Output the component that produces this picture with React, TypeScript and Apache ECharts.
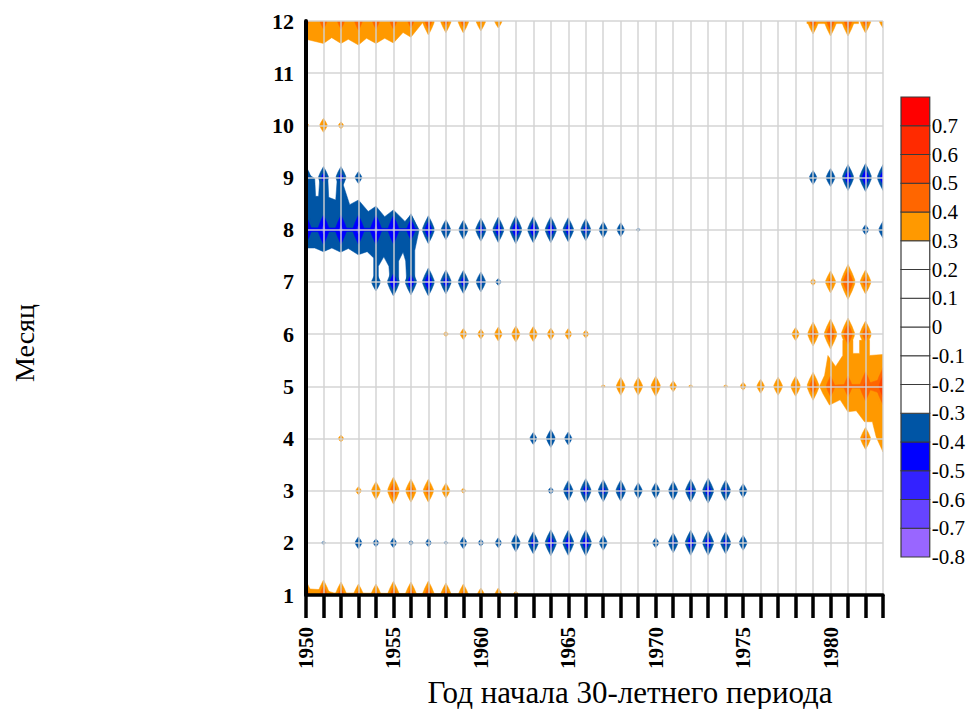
import React, { useEffect, useRef } from "react";
import * as echarts from "echarts";

const firstYear = 1950;
const lastYear = 1983;

// Correlation peaks, one value per start year 1950..1983; 0 means inside the white band.
const month1 = [.45,.46,.44,.42,.42,.447,.44,.45,.43,.42,.38,.38,.35,0,0,0,0,0,0,0,0,0,0,0,0,0,0,0,0,0,0,0,0,0];
const month2 = [0,-.32,0,-.37,-.35,-.36,-.335,-.35,-.32,-.37,-.345,-.36,-.40,-.42,-.44,-.435,-.44,-.385,0,0,-.36,-.41,-.435,-.435,-.42,-.385,0,0,0,0,0,0,0,0];
const month3 = [0,0,0,.35,.40,.445,.425,.425,.385,.335,0,0,0,0,-.345,-.41,-.43,-.42,-.415,-.39,-.39,-.405,-.425,-.435,-.415,-.38,0,0,0,0,0,0,0,0];
const month4 = [0,0,.345,0,0,0,0,0,0,0,0,0,0,-.37,-.40,-.375,0,0,0,0,0,0,0,0,0,0,0,0,0,0,0,0,.42,0];
const month5 = [0,0,0,0,0,0,0,0,0,0,0,0,0,0,0,0,0,.32,.40,.40,.41,.365,.32,0,.32,.35,.38,.40,.41,.45,.47,.47,.51,.55];
const month6 = [0,0,0,0,0,0,0,0,.335,.365,.36,.38,.39,.385,.37,.365,.35,0,0,0,0,0,0,0,0,0,0,0,.375,.43,.46,.47,.44,0];
const month7 = [0,0,0,0,-.40,-.45,-.44,-.45,-.43,-.425,-.41,-.345,0,0,0,0,0,0,0,0,0,0,0,0,0,0,0,0,0,.345,.42,.485,.43,0];
const month8 = [-.505,-.51,-.51,-.51,-.51,-.505,-.47,-.45,-.41,-.405,-.425,-.437,-.45,-.44,-.44,-.43,-.42,-.39,-.38,-.32,0,0,0,0,0,0,0,0,0,0,0,0,-.36,-.395];
const month9 = [-.42,-.42,-.42,-.37,0,0,0,0,0,0,0,0,0,0,0,0,0,0,0,0,0,0,0,0,0,0,0,0,0,-.38,-.40,-.44,-.45,-.44];
const month10 = [.345,.38,.345,0,0,0,0,0,0,0,0,0,0,0,0,0,0,0,0,0,0,0,0,0,0,0,0,0,0,0,0,0,0,0];
const month11 = [0,0,0,0,0,0,0,0,0,0,0,0,0,0,0,0,0,0,0,0,0,0,0,0,0,0,0,0,0,0,0,0,0,0];
const month12 = [.44,.45,.45,.46,.45,.45,.44,.45,.427,.43,.41,.38,0,0,0,0,0,0,0,0,0,0,0,0,0,0,0,0,0,.44,.46,.46,.43,.38];
const monthRows = [month1, month2, month3, month4, month5, month6, month7, month8, month9, month10, month11, month12];

// Contour outlines of the merged regions, as [year, month] pairs with the level they bound.
const decemberBand = [[1950,12],[1950,11.65],[1951,11.57],[1951.47,11.68],[1952,11.57],[1952.42,11.65],[1953,11.54],[1953.46,11.67],[1954,11.57],[1954.5,11.67],[1955,11.58],[1955.55,11.78],[1956,11.69],[1956.7,11.98],[1956.7,12]];
const lateDecemberBand = [[1978.65,12],[1981.6,12],[1981.6,11.95],[1978.65,11.95]];
const januaryBand = [[1950,1],[1950,1.12],[1951,1.1],[1951.6,1.04],[1959.3,1.02],[1959.3,1]];
const augustBand = [[1950,9.18],[1950.2,9.05],[1950.5,8.98],[1950.55,8.64],[1950.72,8.64],[1950.78,8.95],[1951,9.18],[1951.25,8.98],[1951.3,8.62],[1951.7,8.57],[1951.78,8.95],[1952,9.18],[1952.22,8.98],[1952.13,8.86],[1952.5,8.48],[1953,8.57],[1953.56,8.35],[1954,8.45],[1954.5,8.25],[1955,8.38],[1955.66,8.16],[1956,8.29],[1956.47,8],[1956.22,7.6],[1956.22,7.05],[1955.75,7.05],[1955.7,7.4],[1955.55,7.57],[1955.3,7.4],[1955.3,7.05],[1954.8,7.05],[1954.74,7.3],[1954.45,7.48],[1954.14,7.3],[1954.14,7.05],[1953.87,7.05],[1953.87,7.46],[1953.5,7.58],[1952.99,7.52],[1952.42,7.64],[1951.98,7.57],[1951.48,7.65],[1951,7.58],[1950.5,7.65],[1950,7.65]];
const augustCore = [[1950,8.04],[1956.35,8.02],[1956.35,7.98],[1950,7.96]];
const mayBand = [[1979.37,5],[1979.66,5.21],[1979.85,5.59],[1980.29,5.38],[1980.7,5.59],[1980.7,5.88],[1981.28,5.88],[1981.28,5.63],[1981.66,5.63],[1981.66,5.88],[1982.23,5.88],[1982.23,5.59],[1983,5.61],[1983,3.74],[1982.61,4.03],[1982.42,4.28],[1982.4,4.32],[1981.94,4.32],[1981.47,4.53],[1980.99,4.51],[1980.55,4.74],[1979.94,4.64],[1979.56,4.86]];
const mayCore = [[1979.75,5],[1980.5,5.03],[1982,5.04],[1983,5.15],[1983,4.85],[1982,4.96],[1980.5,4.97]];

const outlines = [
  { level: 0.3, points: decemberBand },
  { level: 0.3, points: lateDecemberBand },
  { level: 0.3, points: januaryBand },
  { level: 0.3, points: mayBand },
  { level: -0.3, points: augustBand },
  { level: -0.4, points: augustCore },
  { level: 0.4, points: mayCore },
];

const legendLimits = [-0.8,-0.7,-0.6,-0.5,-0.4,-0.3,-0.2,-0.1,0,0.1,0.2,0.3,0.4,0.5,0.6,0.7,0.8];
const legendFills = ["#9966ff","#6644ff","#3322ff","#0000ff","#0055a5","#ffffff","#ffffff","#ffffff","#ffffff","#ffffff","#ffffff","#ff9900","#ff6600","#ff4400","#ff2a00","#ff0000"];
const levels = [0.3, 0.4, 0.5];
const yearsLabel = "Год начала 30-летнего периода";
const monthsLabel = "Месяц";
const serif = "'Liberation Serif', serif";

const fillFor = (level: number) => legendFills[Math.round((level + 0.8) * 10) - (level < 0 ? 1 : 0)];
const clampX = (v: number) => Math.min(lastYear, Math.max(firstYear, v));
const clampY = (v: number) => Math.min(12, Math.max(1, v));

// One month is 52.2 px high and one year 17.5 px wide on the reference's axes.
const reachPx = (p: number) => Math.max(1.5, 100 * (p - 0.3) - 1);

export default function App() {
  const ref = useRef<HTMLDivElement>(null);
  useEffect(() => {
    const chart = echarts.init(ref.current!, undefined, { renderer: "svg" });
    const series: any[] = [];
    for (const level of levels) {
      for (const sign of [1, -1]) {
        const signed = level * sign;
        const fill = fillFor(signed);
        const style = { fill, stroke: fill, lineWidth: 0.5 };
        const shapes = outlines.filter((o) => Math.abs(o.level - signed) < 1e-6);
        series.push({
          type: "custom", coordinateSystem: "cartesian2d", z: 2, silent: true, clip: true,
          encode: { x: 0, y: 1 },
          data: shapes.map((o) => [o.points[0][0], o.points[0][1], outlines.indexOf(o)]),
          renderItem: (_: any, api: any) => {
            const o = outlines[api.value(2)];
            return {
              type: "polygon", silent: true,
              shape: { points: o.points.map((p) => api.coord([clampX(p[0]), clampY(p[1])])) },
              style,
            };
          },
        });
        const peaks: number[][] = [];
        monthRows.forEach((row, m) => row.forEach((v, i) => {
          if (v * sign > level) peaks.push([firstYear + i, m + 1, Math.abs(v)]);
        }));
        series.push({
          type: "custom", coordinateSystem: "cartesian2d", z: 2, silent: true, clip: true,
          encode: { x: 0, y: 1 },
          data: peaks,
          renderItem: (_: any, api: any) => {
            const x = api.value(0);
            const y = api.value(1);
            const p = api.value(2);
            const r = reachPx(p);
            const frac = Math.sqrt((p - level) / (p - 0.3));
            const h = (r * frac) / 52.2;
            const w = ((1.5 + 0.3 * r) * frac) / 17.5;
            const ring = [[0,1],[0.62,0.5],[1,0.12],[1,-0.12],[0.62,-0.5],[0,-1],[-0.62,-0.5],[-1,-0.12],[-1,0.12],[-0.62,0.5]];
            return {
              type: "polygon", silent: true,
              shape: { points: ring.map((q) => api.coord([clampX(x + q[0] * w), clampY(y + q[1] * h)])) },
              style,
            };
          },
        });
      }
    }
    series.push({
      type: "custom", coordinateSystem: "cartesian2d", xAxisIndex: 1, yAxisIndex: 1, silent: true,
      encode: { y: [0, 1] },
      data: legendFills.map((_, i) => [legendLimits[i], legendLimits[i + 1], i]),
      renderItem: (_: any, api: any) => {
        const a = api.coord([0, api.value(0)]);
        const b = api.coord([1, api.value(1)]);
        return {
          type: "rect", silent: true,
          shape: { x: a[0], y: b[1], width: b[0] - a[0], height: a[1] - b[1] },
          style: { fill: legendFills[api.value(2)], stroke: "#3a3a3a", lineWidth: 1.2 },
        };
      },
    });
    const gridLine = { show: true, lineStyle: { color: "#d2d2d2", width: 2, opacity: 0.7 } };
    chart.setOption({
      animation: false,
      backgroundColor: "#ffffff",
      grid: [
        { left: 306, top: 21, width: 577, height: 574, containLabel: false },
        { left: 901, top: 97, width: 29, height: 460, containLabel: false },
      ],
      xAxis: [
        {
          type: "value", gridIndex: 0, min: firstYear, max: lastYear, interval: 1, z: 5,
          splitLine: gridLine,
          axisLine: { lineStyle: { color: "#000", width: 3.5 } },
          axisTick: { length: 23, lineStyle: { color: "#000", width: 3.5 } },
          axisLabel: {
            rotate: 90, margin: 32, color: "#000", fontFamily: serif, fontSize: 21, fontWeight: "bold",
            hideOverlap: false, showMinLabel: true, interval: 0,
            formatter: (v: number) => (v % 5 === 0 ? String(v) : ""),
          },
        },
        { type: "value", gridIndex: 1, min: 0, max: 1, show: false },
      ],
      yAxis: [
        {
          type: "value", gridIndex: 0, min: 1, max: 12, interval: 1, z: 5,
          splitLine: gridLine,
          axisLine: { show: true, lineStyle: { color: "#000", width: 4 } },
          axisTick: { show: false },
          axisLabel: { margin: 12, color: "#000", fontFamily: serif, fontSize: 22, fontWeight: "bold" },
        },
        {
          type: "value", gridIndex: 1, min: -0.8, max: 0.8, interval: 0.1, position: "right",
          splitLine: { show: false }, axisLine: { show: false }, axisTick: { show: false },
          axisLabel: {
            margin: 2, color: "#000", fontFamily: serif, fontSize: 21,
            formatter: (v: number) => (Math.abs(v - 0.8) < 1e-6 ? "" : String(Math.round(v * 10) / 10)),
          },
        },
      ],
      graphic: [
        { type: "text", x: 630, y: 692.5, style: { text: yearsLabel, font: `31px ${serif}`, fill: "#000", align: "center", verticalAlign: "middle" } },
        { type: "text", x: 24, y: 343, rotation: Math.PI / 2, style: { text: monthsLabel, font: `28px ${serif}`, fill: "#000", align: "center", verticalAlign: "middle" } },
      ],
      series,
    });
    return () => chart.dispose();
  }, []);
  return <div ref={ref} style={{ position: "fixed", left: 0, top: 0, width: 968, height: 709 }} />;
}
